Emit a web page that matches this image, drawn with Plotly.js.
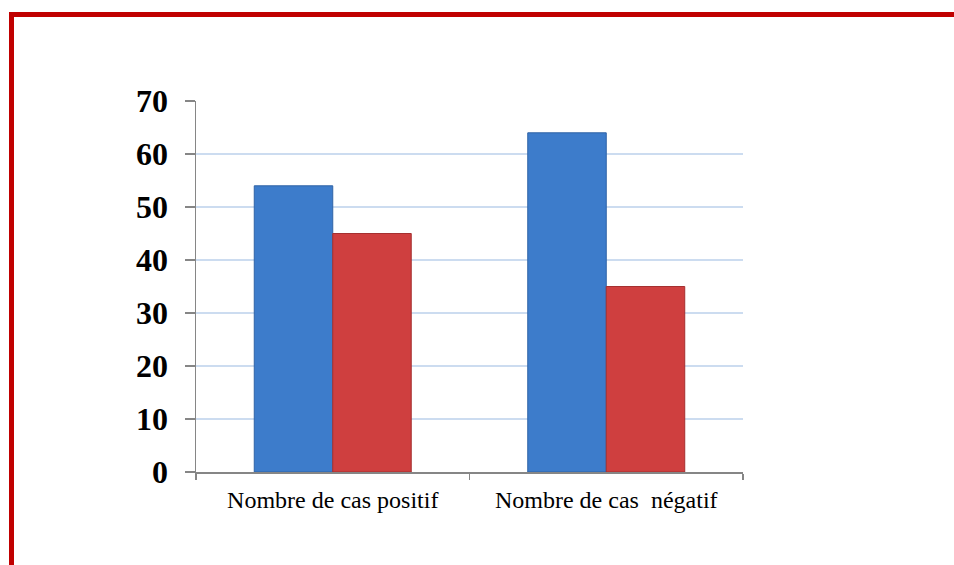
<!DOCTYPE html>
<html>
<head>
<meta charset="utf-8">
<script src="https://cdn.plot.ly/plotly-3.0.1.min.js"></script>
<style>
html,body{margin:0;padding:0;background:#fff;}
#wrap{position:relative;width:954px;height:565px;overflow:hidden;}
#chart{position:absolute;left:0;top:0;width:954px;height:565px;}
#frame{position:absolute;left:9px;top:12px;width:960px;height:580px;border-top:5px solid #C00000;border-left:5px solid #C00000;pointer-events:none;box-sizing:border-box;}
</style>
</head>
<body>
<div id="wrap">
<div id="chart"></div>
<div id="frame"></div>
</div>
<script>
const categories = ["Nombre de cas positif", "Nombre de cas\u00a0 négatif"];
const seriesBlue = [54, 64];
const seriesRed = [45, 35];
const yTicks = [0, 10, 20, 30, 40, 50, 60, 70];

const traces = [
  {type: "bar", x: categories, y: seriesBlue, name: "Série 1",
   marker: {color: "#3D7CCB", line: {color: "#2F63A6", width: 1}}},
  {type: "bar", x: categories, y: seriesRed, name: "Série 2",
   marker: {color: "#CF3F3F", line: {color: "#A53030", width: 1}}}
];

const layout = {
  width: 954, height: 565,
  margin: {l: 196, r: 211, t: 101, b: 93, pad: 0},
  paper_bgcolor: "#ffffff", plot_bgcolor: "#ffffff",
  showlegend: false,
  barmode: "group", bargap: 0.426, bargroupgap: 0,
  xaxis: {
    type: "category", tickson: "boundaries", ticks: "outside", ticklen: 6,
    tickcolor: "#868686", tickwidth: 1.5,
    showline: true, linecolor: "#868686", linewidth: 1.5,
    showgrid: false, zeroline: false,
    ticklabelstandoff: 6,
    tickfont: {family: "Liberation Serif, Times New Roman, serif", size: 24, color: "#000"}
  },
  yaxis: {
    range: [0, 70], tickvals: yTicks, ticks: "outside", ticklen: 10,
    tickcolor: "#868686", tickwidth: 1.5,
    showline: true, linecolor: "#868686", linewidth: 1.5,
    showgrid: true, gridcolor: "#CCDCF0", gridwidth: 1.5, zeroline: false,
    ticklabelstandoff: 10,
    tickfont: {family: "Liberation Serif, Times New Roman, serif", size: 32, color: "#000", weight: "bold"}
  }
};

Plotly.newPlot("chart", traces, layout, {displayModeBar: false, staticPlot: true});
</script>
</body>
</html>
